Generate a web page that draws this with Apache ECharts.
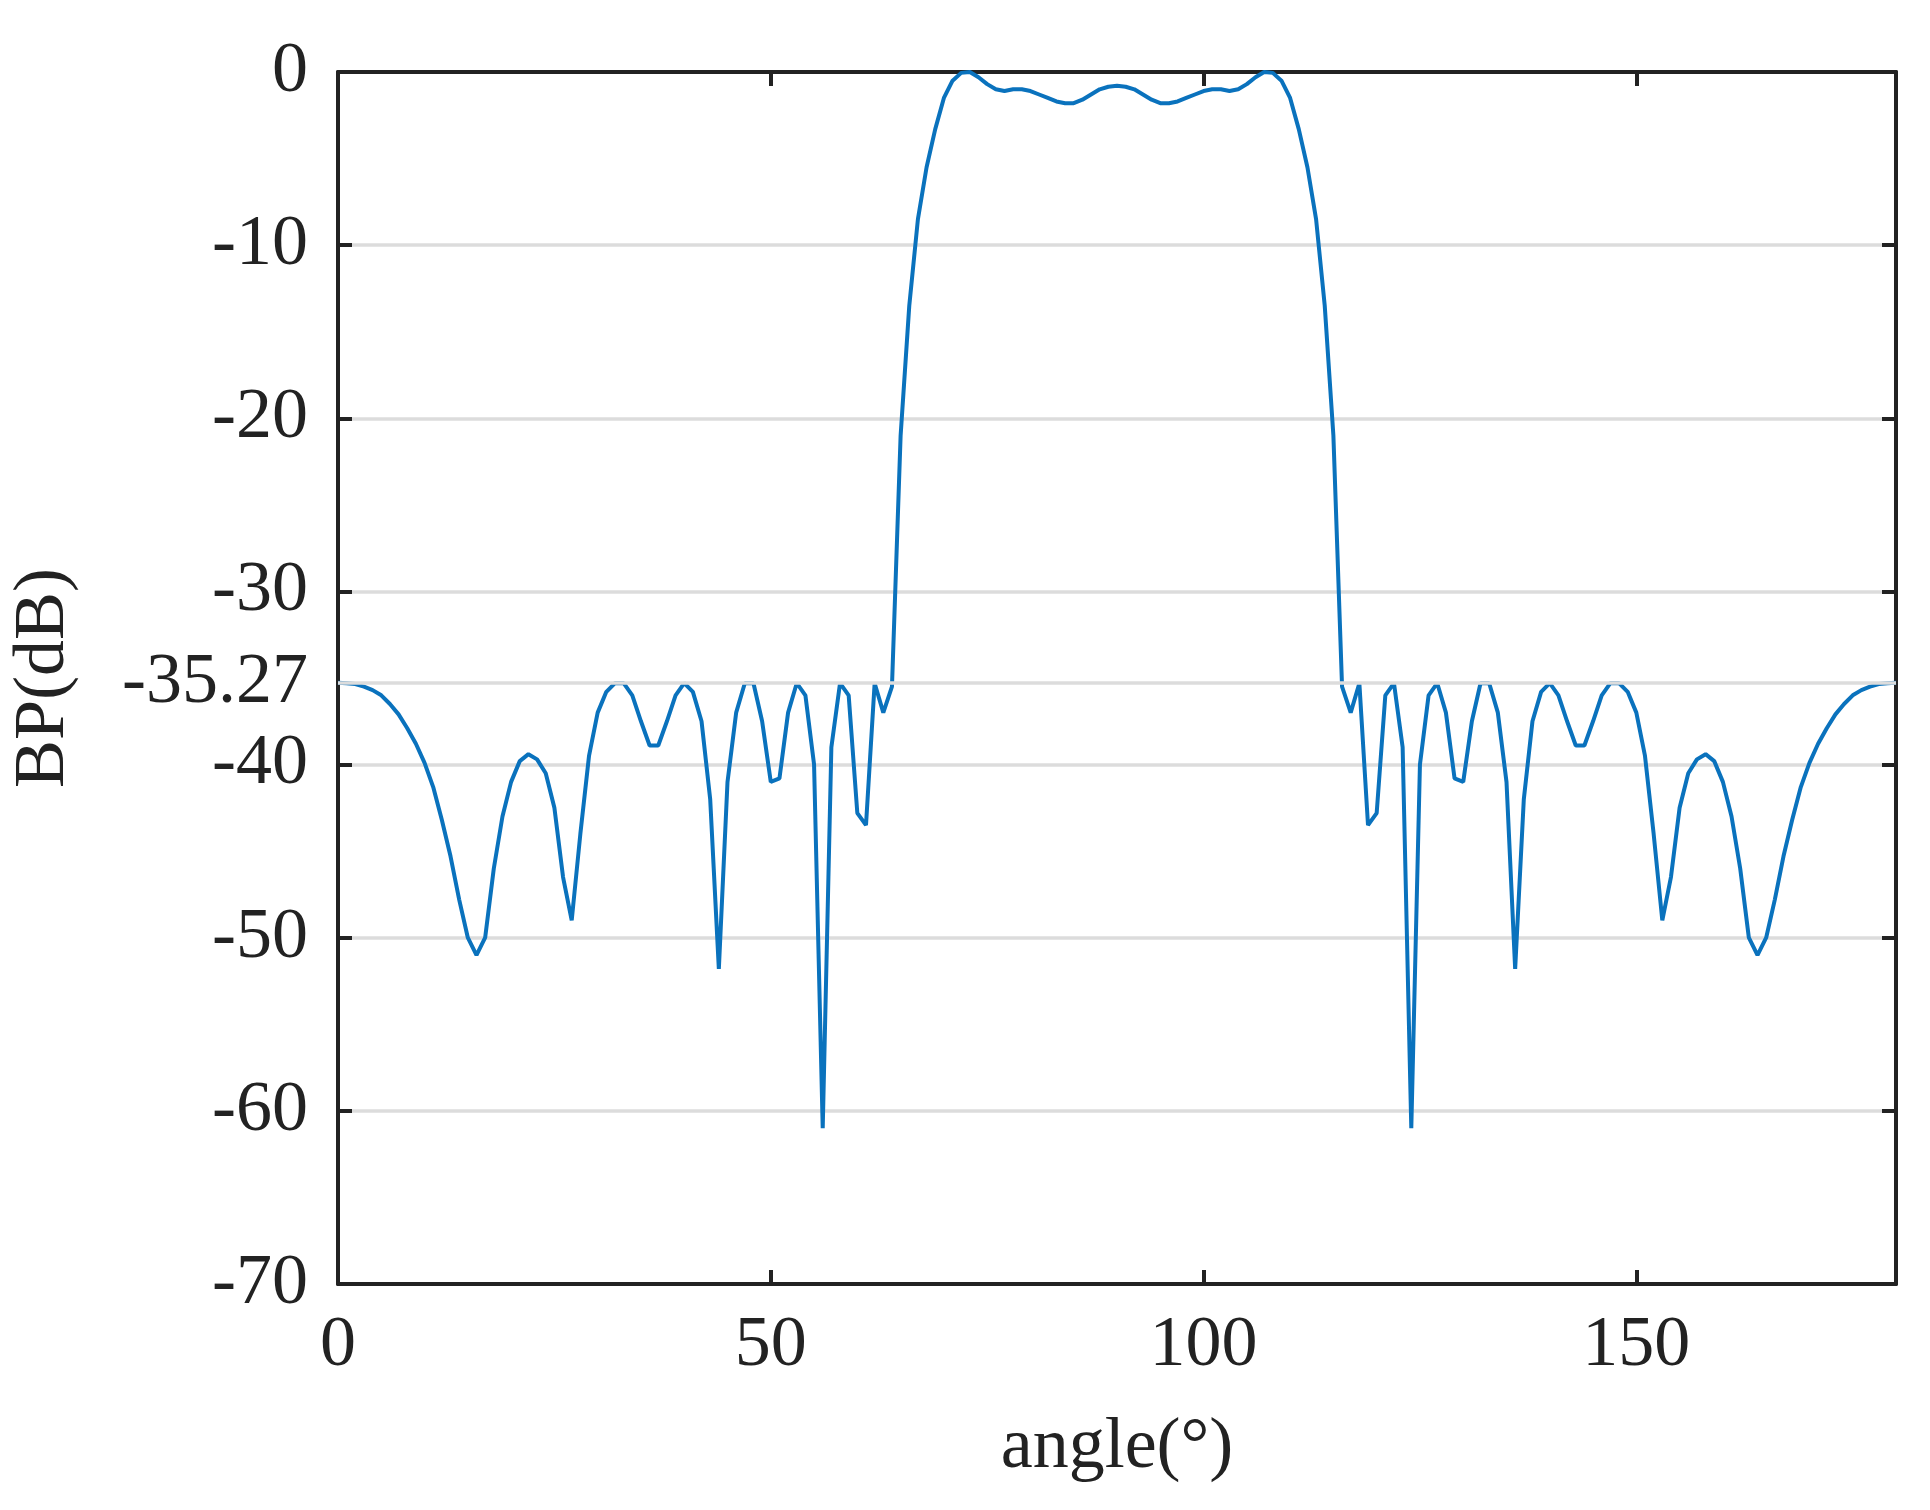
<!DOCTYPE html>
<html><head><meta charset="utf-8">
<script src="https://cdn.jsdelivr.net/npm/echarts@6/dist/echarts.min.js"></script>
<style>html,body{margin:0;background:#fff}#c{width:1930px;height:1510px}</style>
</head><body><div id="c"></div>
<script>
const angles = Array.from({length:181},(_, i)=>i);
const bpLeft = [-35.27,-35.3,-35.35,-35.5,-35.7,-36.0,-36.5,-37.1,-37.9,-38.8,-39.9,-41.3,-43.2,-45.3,-47.8,-50,-51,-50,-46,-43,-41,-39.8,-39.4,-39.7,-40.5,-42.5,-46.5,-49,-44,-39.5,-37,-35.8,-35.3,-35.3,-36,-37.5,-38.9,-38.9,-37.5,-36,-35.3,-35.8,-37.5,-42,-51.8,-41,-37,-35.3,-35.3,-37.5,-41,-40.8,-37,-35.3,-36,-40,-61,-39,-35.3,-36,-42.8,-43.5,-35.3,-37,-35.5,-21,-13.5,-8.5,-5.5,-3.3,-1.5,-0.5,-0.05,0,-0.3,-0.7,-1.0,-1.1,-1.0,-1.0,-1.1,-1.3,-1.5,-1.7,-1.8,-1.8,-1.6,-1.3,-1.0,-0.85,-0.8];
const bpRight = [-0.85,-1.0,-1.3,-1.6,-1.8,-1.8,-1.7,-1.5,-1.3,-1.1,-1.0,-1.0,-1.1,-1.0,-0.7,-0.3,0,-0.05,-0.5,-1.5,-3.3,-5.5,-8.5,-13.5,-21,-35.5,-37,-35.3,-43.5,-42.8,-36,-35.3,-39,-61,-40,-36,-35.3,-37,-40.8,-41,-37.5,-35.3,-35.3,-37,-41,-51.8,-42,-37.5,-35.8,-35.3,-36,-37.5,-38.9,-38.9,-37.5,-36,-35.3,-35.3,-35.8,-37,-39.5,-44,-49,-46.5,-42.5,-40.5,-39.7,-39.4,-39.8,-41,-43,-46,-50,-51,-50,-47.8,-45.3,-43.2,-41.3,-39.9,-38.8,-37.9,-37.1,-36.5,-36.0,-35.7,-35.5,-35.35,-35.3,-35.27];
const bp = bpLeft.concat(bpRight);
const yTicks = [0,-10,-20,-30,-40,-50,-60,-70];
const refLevel = -35.27;
const F = 'Liberation Serif';
const chart = echarts.init(document.getElementById('c'));
const ax = () => ({axisLine:{show:true,onZero:false,lineStyle:{color:'#222',width:4}},axisTick:{show:true,inside:true,length:14,lineStyle:{color:'#222',width:4}},splitLine:{show:false}});
chart.setOption({
  animation:false,
  grid:{left:335,right:34,top:72,bottom:226},
  xAxis:[
    Object.assign(ax(),{type:'value',min:0,max:180,interval:50,name:'angle(°)',nameLocation:'middle',nameGap:128,
      nameTextStyle:{fontFamily:F,fontSize:72,color:'#222'},
      axisLabel:{fontFamily:F,fontSize:72,color:'#222',margin:26,showMaxLabel:false}}),
    Object.assign(ax(),{type:'value',position:'top',min:0,max:180,interval:50,axisLabel:{show:false}})
  ],
  yAxis:[
    Object.assign(ax(),{type:'value',min:-70,max:0,interval:10,name:'BP(dB)',nameLocation:'middle',nameGap:258,
      nameTextStyle:{fontFamily:F,fontSize:72,color:'#222'},
      axisLabel:{fontFamily:F,fontSize:72,color:'#222',margin:30,formatter:v=>yTicks.includes(v)?String(v):''},
      splitLine:{show:true,lineStyle:{color:'#dcdcdc',width:3.5}}}),
    Object.assign(ax(),{type:'value',position:'right',min:-70,max:0,interval:10,axisLabel:{show:false}})
  ],
  series:[{type:'line',data:angles.map((a,i)=>[a,bp[i]]),showSymbol:false,symbol:'none',
    lineStyle:{color:'#0a72bd',width:4},
    markLine:{silent:true,symbol:'none',lineStyle:{color:'#dcdcdc',width:3.5,type:'solid'},
      label:{position:'start',formatter:String(refLevel),fontFamily:F,fontSize:72,color:'#222',distance:30},
      data:[{yAxis:refLevel}]}}]
});
</script></body></html>
